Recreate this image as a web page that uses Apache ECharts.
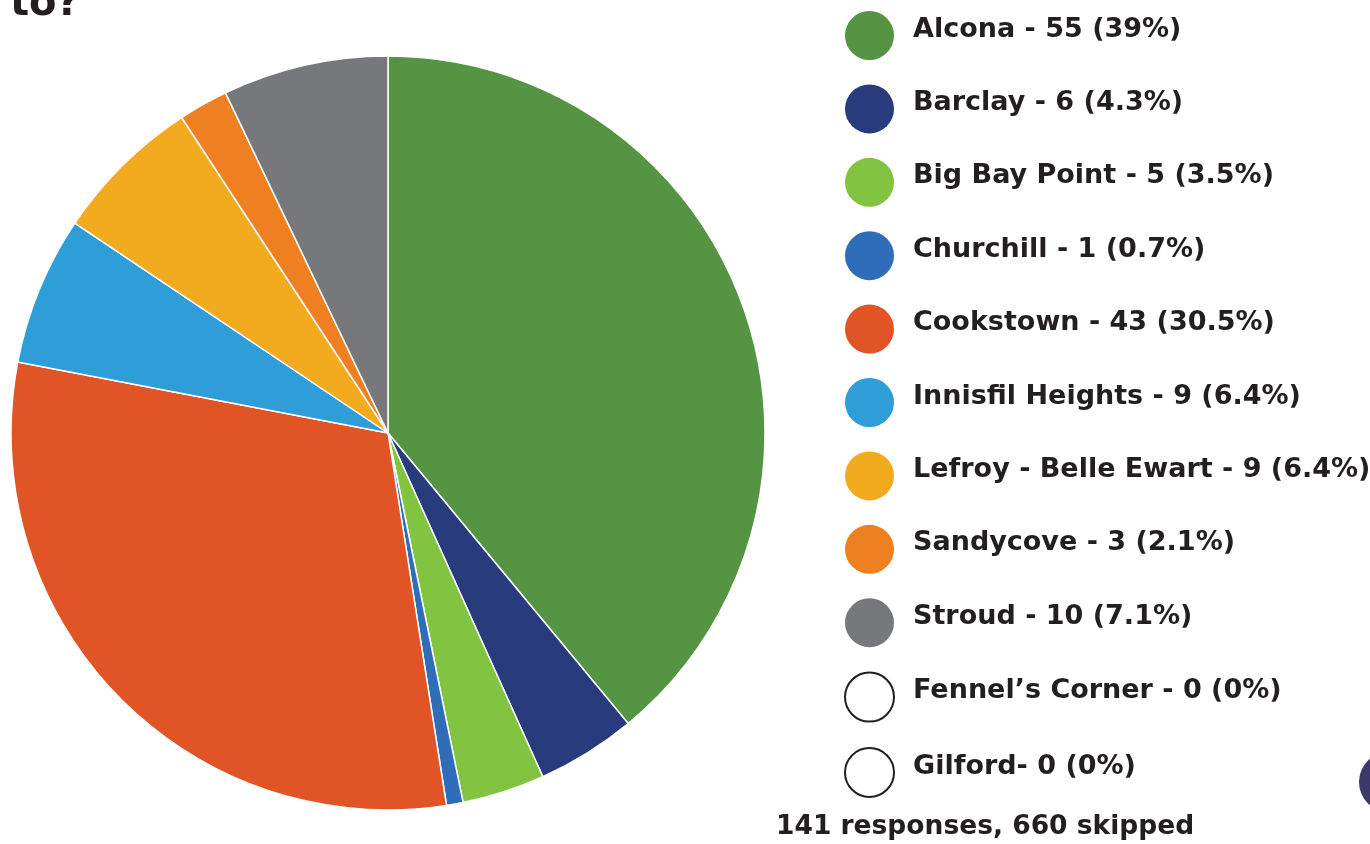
<!DOCTYPE html>
<html>
<head>
<meta charset="utf-8">
<title>Community responses</title>
<script src="https://cdn.jsdelivr.net/npm/echarts@6/dist/echarts.min.js"></script>
<style>
  html, body { margin: 0; padding: 0; background: #ffffff; }
  #chart { width: 1370px; height: 844px; }
</style>
</head>
<body>
<div id="chart"></div>
<script>
// Communities and their response counts
const communities = ['Alcona', 'Barclay', 'Big Bay Point', 'Churchill', 'Cookstown',
  'Innisfil Heights', 'Lefroy - Belle Ewart', 'Sandycove', 'Stroud', "Fennel\u2019s Corner", 'Gilford'];
const responses = [55, 6, 5, 1, 43, 9, 9, 3, 10, 0, 0];
const shareLabels = ['39%', '4.3%', '3.5%', '0.7%', '30.5%', '6.4%', '6.4%', '2.1%', '7.1%', '0%', '0%'];
const sliceColors = ['#559443', '#283c7d', '#82c341', '#2f6db8', '#e05426',
  '#2f9dd8', '#f2aa1f', '#ee8022', '#77787b', '#ffffff', '#ffffff'];
const legendSeparators = [' - ', ' - ', ' - ', ' - ', ' - ', ' - ', ' - ', ' - ', ' - ', ' - ', '- '];
const footerText = '141 responses, 660 skipped';
const questionTail = 'to?';

const textColor = '#231f20';
const font = '"DejaVu Sans", sans-serif';

const seriesData = communities.map((name, i) => ({
  name: name,
  value: responses[i],
  itemStyle: responses[i] === 0
    ? { color: '#ffffff', borderWidth: 0 }
    : { color: sliceColors[i] }
}));

const legendData = communities.map((name, i) => ({
  name: name,
  itemStyle: responses[i] === 0
    ? { color: '#ffffff', borderColor: textColor, borderWidth: 2 }
    : { color: sliceColors[i], borderWidth: 0 }
}));

const labelFor = {};
communities.forEach((name, i) => {
  labelFor[name] = name + legendSeparators[i] + responses[i] + ' (' + shareLabels[i] + ')';
});

const chart = echarts.init(document.getElementById('chart'), null, { renderer: 'canvas' });

chart.setOption({
  animation: false,
  backgroundColor: '#ffffff',
  legend: {
    orient: 'vertical',
    left: 844,
    top: 11,
    padding: 0,
    itemWidth: 49,
    itemHeight: 49,
    itemGap: 24.4,
    icon: 'circle',
    selectedMode: false,
    data: legendData,
    formatter: (name) => '{t|' + labelFor[name] + '}',
    textStyle: {
      color: textColor,
      fontFamily: font,
      fontWeight: 'bold',
      fontSize: 27,
      rich: {
        t: {
          color: textColor,
          fontFamily: font,
          fontWeight: 'bold',
          fontSize: 27,
          lineHeight: 30,
          padding: [0, 0, 12, 14]
        }
      }
    },
    itemStyle: { borderWidth: 0 }
  },
  series: [{
    type: 'pie',
    center: [388, 433],
    radius: [0, 377],
    startAngle: 90,
    clockwise: true,
    avoidLabelOverlap: false,
    silent: true,
    label: { show: false },
    labelLine: { show: false },
    itemStyle: { borderColor: '#ffffff', borderWidth: 1.5 },
    emphasis: { disabled: true },
    data: seriesData
  }],
  graphic: [
    {
      // tail of the question heading, running off the top edge
      type: 'text',
      left: 10,
      top: -15,
      style: {
        text: questionTail,
        fill: textColor,
        font: 'bold 40px ' + font
      }
    },
    {
      type: 'text',
      left: 776,
      top: 814,
      style: {
        text: footerText,
        fill: textColor,
        font: 'bold 26.5px ' + font
      }
    },
    {
      type: 'circle',
      shape: { cx: 1389, cy: 782, r: 30 },
      style: { fill: '#3e396a' }
    }
  ]
});
</script>
</body>
</html>
